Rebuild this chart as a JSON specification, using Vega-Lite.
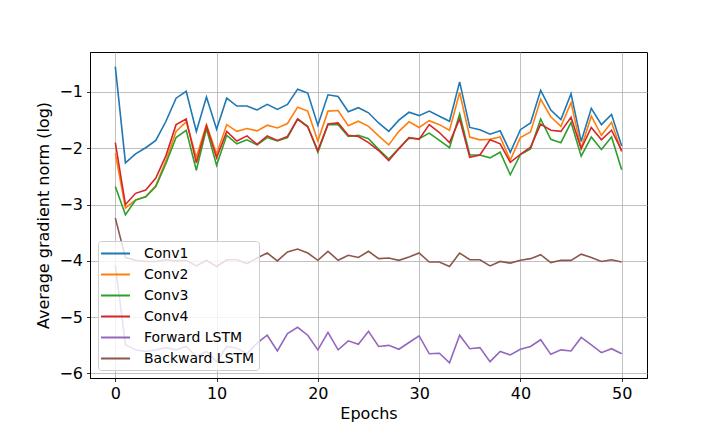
{
  "$schema": "https://vega.github.io/schema/vega-lite/v6.json",
  "autosize": "none",
  "padding": {"left": 90, "top": 52, "right": 73, "bottom": 54},
  "width": 557,
  "height": 326,
  "background": "white",
  "data": {
    "values": [
      {"epoch":0,"layer":"Conv1","norm":-0.55},{"epoch":1,"layer":"Conv1","norm":-2.26},{"epoch":2,"layer":"Conv1","norm":-2.10},{"epoch":3,"layer":"Conv1","norm":-1.99},{"epoch":4,"layer":"Conv1","norm":-1.86},{"epoch":5,"layer":"Conv1","norm":-1.52},{"epoch":6,"layer":"Conv1","norm":-1.11},{"epoch":7,"layer":"Conv1","norm":-0.99},{"epoch":8,"layer":"Conv1","norm":-1.70},{"epoch":9,"layer":"Conv1","norm":-1.09},
      {"epoch":10,"layer":"Conv1","norm":-1.66},{"epoch":11,"layer":"Conv1","norm":-1.11},{"epoch":12,"layer":"Conv1","norm":-1.25},{"epoch":13,"layer":"Conv1","norm":-1.25},{"epoch":14,"layer":"Conv1","norm":-1.32},{"epoch":15,"layer":"Conv1","norm":-1.22},{"epoch":16,"layer":"Conv1","norm":-1.31},{"epoch":17,"layer":"Conv1","norm":-1.22},{"epoch":18,"layer":"Conv1","norm":-0.95},{"epoch":19,"layer":"Conv1","norm":-1.02},
      {"epoch":20,"layer":"Conv1","norm":-1.59},{"epoch":21,"layer":"Conv1","norm":-1.05},{"epoch":22,"layer":"Conv1","norm":-1.08},{"epoch":23,"layer":"Conv1","norm":-1.35},{"epoch":24,"layer":"Conv1","norm":-1.28},{"epoch":25,"layer":"Conv1","norm":-1.37},{"epoch":26,"layer":"Conv1","norm":-1.55},{"epoch":27,"layer":"Conv1","norm":-1.70},{"epoch":28,"layer":"Conv1","norm":-1.50},{"epoch":29,"layer":"Conv1","norm":-1.36},
      {"epoch":30,"layer":"Conv1","norm":-1.42},{"epoch":31,"layer":"Conv1","norm":-1.34},{"epoch":32,"layer":"Conv1","norm":-1.43},{"epoch":33,"layer":"Conv1","norm":-1.52},{"epoch":34,"layer":"Conv1","norm":-0.82},{"epoch":35,"layer":"Conv1","norm":-1.63},{"epoch":36,"layer":"Conv1","norm":-1.67},{"epoch":37,"layer":"Conv1","norm":-1.75},{"epoch":38,"layer":"Conv1","norm":-1.69},{"epoch":39,"layer":"Conv1","norm":-2.07},
      {"epoch":40,"layer":"Conv1","norm":-1.67},{"epoch":41,"layer":"Conv1","norm":-1.55},{"epoch":42,"layer":"Conv1","norm":-0.97},{"epoch":43,"layer":"Conv1","norm":-1.32},{"epoch":44,"layer":"Conv1","norm":-1.49},{"epoch":45,"layer":"Conv1","norm":-1.03},{"epoch":46,"layer":"Conv1","norm":-1.88},{"epoch":47,"layer":"Conv1","norm":-1.29},{"epoch":48,"layer":"Conv1","norm":-1.58},{"epoch":49,"layer":"Conv1","norm":-1.40},{"epoch":50,"layer":"Conv1","norm":-1.96},

      {"epoch":0,"layer":"Conv2","norm":-2.09},{"epoch":1,"layer":"Conv2","norm":-3.06},{"epoch":2,"layer":"Conv2","norm":-2.92},{"epoch":3,"layer":"Conv2","norm":-2.86},{"epoch":4,"layer":"Conv2","norm":-2.66},{"epoch":5,"layer":"Conv2","norm":-2.22},{"epoch":6,"layer":"Conv2","norm":-1.70},{"epoch":7,"layer":"Conv2","norm":-1.53},{"epoch":8,"layer":"Conv2","norm":-2.16},{"epoch":9,"layer":"Conv2","norm":-1.58},
      {"epoch":10,"layer":"Conv2","norm":-2.10},{"epoch":11,"layer":"Conv2","norm":-1.58},{"epoch":12,"layer":"Conv2","norm":-1.70},{"epoch":13,"layer":"Conv2","norm":-1.65},{"epoch":14,"layer":"Conv2","norm":-1.69},{"epoch":15,"layer":"Conv2","norm":-1.59},{"epoch":16,"layer":"Conv2","norm":-1.64},{"epoch":17,"layer":"Conv2","norm":-1.56},{"epoch":18,"layer":"Conv2","norm":-1.27},{"epoch":19,"layer":"Conv2","norm":-1.34},
      {"epoch":20,"layer":"Conv2","norm":-1.87},{"epoch":21,"layer":"Conv2","norm":-1.34},{"epoch":22,"layer":"Conv2","norm":-1.33},{"epoch":23,"layer":"Conv2","norm":-1.60},{"epoch":24,"layer":"Conv2","norm":-1.52},{"epoch":25,"layer":"Conv2","norm":-1.61},{"epoch":26,"layer":"Conv2","norm":-1.78},{"epoch":27,"layer":"Conv2","norm":-1.94},{"epoch":28,"layer":"Conv2","norm":-1.70},{"epoch":29,"layer":"Conv2","norm":-1.53},
      {"epoch":30,"layer":"Conv2","norm":-1.63},{"epoch":31,"layer":"Conv2","norm":-1.51},{"epoch":32,"layer":"Conv2","norm":-1.58},{"epoch":33,"layer":"Conv2","norm":-1.68},{"epoch":34,"layer":"Conv2","norm":-1.01},{"epoch":35,"layer":"Conv2","norm":-1.80},{"epoch":36,"layer":"Conv2","norm":-1.85},{"epoch":37,"layer":"Conv2","norm":-1.84},{"epoch":38,"layer":"Conv2","norm":-1.80},{"epoch":39,"layer":"Conv2","norm":-2.21},
      {"epoch":40,"layer":"Conv2","norm":-1.81},{"epoch":41,"layer":"Conv2","norm":-1.71},{"epoch":42,"layer":"Conv2","norm":-1.13},{"epoch":43,"layer":"Conv2","norm":-1.44},{"epoch":44,"layer":"Conv2","norm":-1.61},{"epoch":45,"layer":"Conv2","norm":-1.19},{"epoch":46,"layer":"Conv2","norm":-2.00},{"epoch":47,"layer":"Conv2","norm":-1.43},{"epoch":48,"layer":"Conv2","norm":-1.77},{"epoch":49,"layer":"Conv2","norm":-1.54},{"epoch":50,"layer":"Conv2","norm":-2.06},

      {"epoch":0,"layer":"Conv3","norm":-2.68},{"epoch":1,"layer":"Conv3","norm":-3.18},{"epoch":2,"layer":"Conv3","norm":-2.92},{"epoch":3,"layer":"Conv3","norm":-2.86},{"epoch":4,"layer":"Conv3","norm":-2.68},{"epoch":5,"layer":"Conv3","norm":-2.27},{"epoch":6,"layer":"Conv3","norm":-1.81},{"epoch":7,"layer":"Conv3","norm":-1.68},{"epoch":8,"layer":"Conv3","norm":-2.39},{"epoch":9,"layer":"Conv3","norm":-1.65},
      {"epoch":10,"layer":"Conv3","norm":-2.30},{"epoch":11,"layer":"Conv3","norm":-1.77},{"epoch":12,"layer":"Conv3","norm":-1.92},{"epoch":13,"layer":"Conv3","norm":-1.85},{"epoch":14,"layer":"Conv3","norm":-1.94},{"epoch":15,"layer":"Conv3","norm":-1.81},{"epoch":16,"layer":"Conv3","norm":-1.87},{"epoch":17,"layer":"Conv3","norm":-1.81},{"epoch":18,"layer":"Conv3","norm":-1.48},{"epoch":19,"layer":"Conv3","norm":-1.61},
      {"epoch":20,"layer":"Conv3","norm":-2.07},{"epoch":21,"layer":"Conv3","norm":-1.58},{"epoch":22,"layer":"Conv3","norm":-1.58},{"epoch":23,"layer":"Conv3","norm":-1.79},{"epoch":24,"layer":"Conv3","norm":-1.77},{"epoch":25,"layer":"Conv3","norm":-1.83},{"epoch":26,"layer":"Conv3","norm":-2.02},{"epoch":27,"layer":"Conv3","norm":-2.19},{"epoch":28,"layer":"Conv3","norm":-2.00},{"epoch":29,"layer":"Conv3","norm":-1.82},
      {"epoch":30,"layer":"Conv3","norm":-1.83},{"epoch":31,"layer":"Conv3","norm":-1.73},{"epoch":32,"layer":"Conv3","norm":-1.86},{"epoch":33,"layer":"Conv3","norm":-1.99},{"epoch":34,"layer":"Conv3","norm":-1.39},{"epoch":35,"layer":"Conv3","norm":-2.12},{"epoch":36,"layer":"Conv3","norm":-2.12},{"epoch":37,"layer":"Conv3","norm":-2.17},{"epoch":38,"layer":"Conv3","norm":-2.07},{"epoch":39,"layer":"Conv3","norm":-2.47},
      {"epoch":40,"layer":"Conv3","norm":-2.11},{"epoch":41,"layer":"Conv3","norm":-2.01},{"epoch":42,"layer":"Conv3","norm":-1.48},{"epoch":43,"layer":"Conv3","norm":-1.84},{"epoch":44,"layer":"Conv3","norm":-1.90},{"epoch":45,"layer":"Conv3","norm":-1.54},{"epoch":46,"layer":"Conv3","norm":-2.14},{"epoch":47,"layer":"Conv3","norm":-1.80},{"epoch":48,"layer":"Conv3","norm":-2.02},{"epoch":49,"layer":"Conv3","norm":-1.80},{"epoch":50,"layer":"Conv3","norm":-2.38},

      {"epoch":0,"layer":"Conv4","norm":-1.90},{"epoch":1,"layer":"Conv4","norm":-3.00},{"epoch":2,"layer":"Conv4","norm":-2.80},{"epoch":3,"layer":"Conv4","norm":-2.74},{"epoch":4,"layer":"Conv4","norm":-2.53},{"epoch":5,"layer":"Conv4","norm":-2.13},{"epoch":6,"layer":"Conv4","norm":-1.58},{"epoch":7,"layer":"Conv4","norm":-1.48},{"epoch":8,"layer":"Conv4","norm":-2.26},{"epoch":9,"layer":"Conv4","norm":-1.60},
      {"epoch":10,"layer":"Conv4","norm":-2.17},{"epoch":11,"layer":"Conv4","norm":-1.70},{"epoch":12,"layer":"Conv4","norm":-1.87},{"epoch":13,"layer":"Conv4","norm":-1.78},{"epoch":14,"layer":"Conv4","norm":-1.93},{"epoch":15,"layer":"Conv4","norm":-1.78},{"epoch":16,"layer":"Conv4","norm":-1.86},{"epoch":17,"layer":"Conv4","norm":-1.79},{"epoch":18,"layer":"Conv4","norm":-1.48},{"epoch":19,"layer":"Conv4","norm":-1.62},
      {"epoch":20,"layer":"Conv4","norm":-2.04},{"epoch":21,"layer":"Conv4","norm":-1.57},{"epoch":22,"layer":"Conv4","norm":-1.55},{"epoch":23,"layer":"Conv4","norm":-1.77},{"epoch":24,"layer":"Conv4","norm":-1.79},{"epoch":25,"layer":"Conv4","norm":-1.90},{"epoch":26,"layer":"Conv4","norm":-2.04},{"epoch":27,"layer":"Conv4","norm":-2.22},{"epoch":28,"layer":"Conv4","norm":-2.01},{"epoch":29,"layer":"Conv4","norm":-1.81},
      {"epoch":30,"layer":"Conv4","norm":-1.84},{"epoch":31,"layer":"Conv4","norm":-1.58},{"epoch":32,"layer":"Conv4","norm":-1.72},{"epoch":33,"layer":"Conv4","norm":-1.90},{"epoch":34,"layer":"Conv4","norm":-1.48},{"epoch":35,"layer":"Conv4","norm":-2.16},{"epoch":36,"layer":"Conv4","norm":-2.12},{"epoch":37,"layer":"Conv4","norm":-1.85},{"epoch":38,"layer":"Conv4","norm":-1.92},{"epoch":39,"layer":"Conv4","norm":-2.25},
      {"epoch":40,"layer":"Conv4","norm":-2.11},{"epoch":41,"layer":"Conv4","norm":-1.98},{"epoch":42,"layer":"Conv4","norm":-1.57},{"epoch":43,"layer":"Conv4","norm":-1.68},{"epoch":44,"layer":"Conv4","norm":-1.70},{"epoch":45,"layer":"Conv4","norm":-1.45},{"epoch":46,"layer":"Conv4","norm":-2.01},{"epoch":47,"layer":"Conv4","norm":-1.63},{"epoch":48,"layer":"Conv4","norm":-1.85},{"epoch":49,"layer":"Conv4","norm":-1.68},{"epoch":50,"layer":"Conv4","norm":-2.04},

      {"epoch":0,"layer":"Forward LSTM","norm":-4.08},{"epoch":1,"layer":"Forward LSTM","norm":-5.49},{"epoch":2,"layer":"Forward LSTM","norm":-5.58},{"epoch":3,"layer":"Forward LSTM","norm":-5.61},{"epoch":4,"layer":"Forward LSTM","norm":-5.58},{"epoch":5,"layer":"Forward LSTM","norm":-5.54},{"epoch":6,"layer":"Forward LSTM","norm":-5.58},{"epoch":7,"layer":"Forward LSTM","norm":-5.52},{"epoch":8,"layer":"Forward LSTM","norm":-5.70},{"epoch":9,"layer":"Forward LSTM","norm":-5.61},
      {"epoch":10,"layer":"Forward LSTM","norm":-5.79},{"epoch":11,"layer":"Forward LSTM","norm":-5.52},{"epoch":12,"layer":"Forward LSTM","norm":-5.55},{"epoch":13,"layer":"Forward LSTM","norm":-5.65},{"epoch":14,"layer":"Forward LSTM","norm":-5.46},{"epoch":15,"layer":"Forward LSTM","norm":-5.32},{"epoch":16,"layer":"Forward LSTM","norm":-5.60},{"epoch":17,"layer":"Forward LSTM","norm":-5.29},{"epoch":18,"layer":"Forward LSTM","norm":-5.18},{"epoch":19,"layer":"Forward LSTM","norm":-5.32},
      {"epoch":20,"layer":"Forward LSTM","norm":-5.58},{"epoch":21,"layer":"Forward LSTM","norm":-5.27},{"epoch":22,"layer":"Forward LSTM","norm":-5.58},{"epoch":23,"layer":"Forward LSTM","norm":-5.42},{"epoch":24,"layer":"Forward LSTM","norm":-5.48},{"epoch":25,"layer":"Forward LSTM","norm":-5.25},{"epoch":26,"layer":"Forward LSTM","norm":-5.52},{"epoch":27,"layer":"Forward LSTM","norm":-5.50},{"epoch":28,"layer":"Forward LSTM","norm":-5.57},{"epoch":29,"layer":"Forward LSTM","norm":-5.45},
      {"epoch":30,"layer":"Forward LSTM","norm":-5.33},{"epoch":31,"layer":"Forward LSTM","norm":-5.65},{"epoch":32,"layer":"Forward LSTM","norm":-5.64},{"epoch":33,"layer":"Forward LSTM","norm":-5.81},{"epoch":34,"layer":"Forward LSTM","norm":-5.32},{"epoch":35,"layer":"Forward LSTM","norm":-5.56},{"epoch":36,"layer":"Forward LSTM","norm":-5.54},{"epoch":37,"layer":"Forward LSTM","norm":-5.79},{"epoch":38,"layer":"Forward LSTM","norm":-5.61},{"epoch":39,"layer":"Forward LSTM","norm":-5.67},
      {"epoch":40,"layer":"Forward LSTM","norm":-5.57},{"epoch":41,"layer":"Forward LSTM","norm":-5.52},{"epoch":42,"layer":"Forward LSTM","norm":-5.40},{"epoch":43,"layer":"Forward LSTM","norm":-5.66},{"epoch":44,"layer":"Forward LSTM","norm":-5.58},{"epoch":45,"layer":"Forward LSTM","norm":-5.60},{"epoch":46,"layer":"Forward LSTM","norm":-5.36},{"epoch":47,"layer":"Forward LSTM","norm":-5.49},{"epoch":48,"layer":"Forward LSTM","norm":-5.63},{"epoch":49,"layer":"Forward LSTM","norm":-5.56},{"epoch":50,"layer":"Forward LSTM","norm":-5.65},

      {"epoch":0,"layer":"Backward LSTM","norm":-3.24},{"epoch":1,"layer":"Backward LSTM","norm":-3.94},{"epoch":2,"layer":"Backward LSTM","norm":-3.99},{"epoch":3,"layer":"Backward LSTM","norm":-4.01},{"epoch":4,"layer":"Backward LSTM","norm":-4.01},{"epoch":5,"layer":"Backward LSTM","norm":-3.98},{"epoch":6,"layer":"Backward LSTM","norm":-4.00},{"epoch":7,"layer":"Backward LSTM","norm":-3.99},{"epoch":8,"layer":"Backward LSTM","norm":-4.09},{"epoch":9,"layer":"Backward LSTM","norm":-3.99},
      {"epoch":10,"layer":"Backward LSTM","norm":-4.10},{"epoch":11,"layer":"Backward LSTM","norm":-3.98},{"epoch":12,"layer":"Backward LSTM","norm":-3.98},{"epoch":13,"layer":"Backward LSTM","norm":-4.05},{"epoch":14,"layer":"Backward LSTM","norm":-3.95},{"epoch":15,"layer":"Backward LSTM","norm":-3.86},{"epoch":16,"layer":"Backward LSTM","norm":-4.00},{"epoch":17,"layer":"Backward LSTM","norm":-3.84},{"epoch":18,"layer":"Backward LSTM","norm":-3.79},{"epoch":19,"layer":"Backward LSTM","norm":-3.86},
      {"epoch":20,"layer":"Backward LSTM","norm":-3.99},{"epoch":21,"layer":"Backward LSTM","norm":-3.83},{"epoch":22,"layer":"Backward LSTM","norm":-3.99},{"epoch":23,"layer":"Backward LSTM","norm":-3.90},{"epoch":24,"layer":"Backward LSTM","norm":-3.94},{"epoch":25,"layer":"Backward LSTM","norm":-3.83},{"epoch":26,"layer":"Backward LSTM","norm":-3.96},{"epoch":27,"layer":"Backward LSTM","norm":-3.95},{"epoch":28,"layer":"Backward LSTM","norm":-3.99},{"epoch":29,"layer":"Backward LSTM","norm":-3.93},
      {"epoch":30,"layer":"Backward LSTM","norm":-3.86},{"epoch":31,"layer":"Backward LSTM","norm":-4.02},{"epoch":32,"layer":"Backward LSTM","norm":-4.02},{"epoch":33,"layer":"Backward LSTM","norm":-4.10},{"epoch":34,"layer":"Backward LSTM","norm":-3.86},{"epoch":35,"layer":"Backward LSTM","norm":-3.98},{"epoch":36,"layer":"Backward LSTM","norm":-3.98},{"epoch":37,"layer":"Backward LSTM","norm":-4.09},{"epoch":38,"layer":"Backward LSTM","norm":-4.01},{"epoch":39,"layer":"Backward LSTM","norm":-4.04},
      {"epoch":40,"layer":"Backward LSTM","norm":-3.99},{"epoch":41,"layer":"Backward LSTM","norm":-3.96},{"epoch":42,"layer":"Backward LSTM","norm":-3.89},{"epoch":43,"layer":"Backward LSTM","norm":-4.03},{"epoch":44,"layer":"Backward LSTM","norm":-3.99},{"epoch":45,"layer":"Backward LSTM","norm":-3.99},{"epoch":46,"layer":"Backward LSTM","norm":-3.88},{"epoch":47,"layer":"Backward LSTM","norm":-3.94},{"epoch":48,"layer":"Backward LSTM","norm":-4.01},{"epoch":49,"layer":"Backward LSTM","norm":-3.98},{"epoch":50,"layer":"Backward LSTM","norm":-4.02}
    ]
  },
  "mark": {"type": "line", "strokeWidth": 1.6, "clip": true},
  "encoding": {
    "x": {
      "field": "epoch",
      "type": "quantitative",
      "title": "Epochs",
      "scale": {"domain": [-2.5, 52.5], "nice": false, "zero": false},
      "axis": {"values": [0, 10, 20, 30, 40, 50]}
    },
    "y": {
      "field": "norm",
      "type": "quantitative",
      "title": "Average gradient norm (log)",
      "scale": {"domain": [-6.08, -0.29], "nice": false, "zero": false},
      "axis": {"values": [-6, -5, -4, -3, -2, -1]}
    },
    "color": {
      "field": "layer",
      "type": "nominal",
      "scale": {
        "domain": ["Conv1", "Conv2", "Conv3", "Conv4", "Forward LSTM", "Backward LSTM"],
        "range": ["#1f77b4", "#ff7f0e", "#2ca02c", "#d62728", "#9467bd", "#8c564b"]
      },
      "legend": {
        "title": null,
        "orient": "none",
        "legendX": 8,
        "legendY": 189,
        "symbolType": "M-2,0H2",
        "symbolSize": 210,
        "symbolStrokeWidth": 2,
        "symbolOffset": 5,
        "labelFontSize": 14,
        "labelFont": "DejaVu Sans",
        "labelColor": "black",
        "labelOffset": 20,
        "rowPadding": 5,
        "padding": 4,
        "fillColor": "rgba(255,255,255,0.8)",
        "strokeColor": "#cccccc",
        "cornerRadius": 3
      }
    }
  },
  "config": {
    "view": {"stroke": "black", "strokeWidth": 1},
    "axis": {
      "labelFont": "DejaVu Sans",
      "titleFont": "DejaVu Sans",
      "labelFontSize": 16,
      "titleFontSize": 16,
      "titleFontWeight": "normal",
      "labelColor": "black",
      "titleColor": "black",
      "grid": true,
      "gridColor": "#b0b0b0",
      "gridWidth": 0.8,
      "domainColor": "black",
      "domainWidth": 1,
      "tickColor": "black",
      "tickWidth": 0.8,
      "tickSize": 3.5,
      "labelPadding": 4
    },
    "axisX": {"titlePadding": 4},
    "axisY": {"titlePadding": 7}
  }
}
